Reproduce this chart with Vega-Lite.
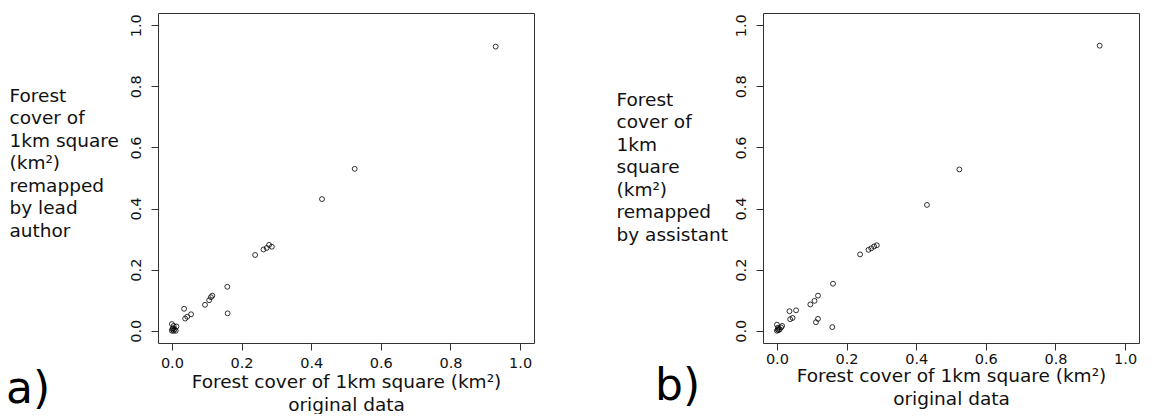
{
  "$schema": "https://vega.github.io/schema/vega-lite/v6.json",
  "background": "white",
  "padding": {"left": 5, "top": 12, "right": 0, "bottom": 0},
  "spacing": 80,
  "config": {
    "font": "DejaVu Sans",
    "view": {"stroke": "#333", "strokeWidth": 1},
    "axis": {
      "grid": false,
      "domain": false,
      "tickColor": "#333",
      "tickSize": 7,
      "labelFontSize": 14.5,
      "labelColor": "#111",
      "titleFontSize": 18.5,
      "titleFontWeight": "normal",
      "titleColor": "#111",
      "titleLineHeight": 22.5
    },
    "title": {"fontSize": 44, "fontWeight": "normal", "color": "#000"}
  },
  "datasets": {
    "lead": [
      {"original": 0.93, "remapped": 0.93},
      {"original": 0.525, "remapped": 0.53},
      {"original": 0.431, "remapped": 0.431},
      {"original": 0.239, "remapped": 0.248},
      {"original": 0.263, "remapped": 0.266},
      {"original": 0.272, "remapped": 0.271},
      {"original": 0.279, "remapped": 0.281},
      {"original": 0.287, "remapped": 0.275},
      {"original": 0.159, "remapped": 0.144},
      {"original": 0.16, "remapped": 0.057},
      {"original": 0.116, "remapped": 0.115},
      {"original": 0.112, "remapped": 0.11},
      {"original": 0.107, "remapped": 0.1},
      {"original": 0.095, "remapped": 0.085},
      {"original": 0.035, "remapped": 0.072},
      {"original": 0.038, "remapped": 0.04},
      {"original": 0.044, "remapped": 0.046},
      {"original": 0.055, "remapped": 0.054},
      {"original": 0.0, "remapped": 0.022},
      {"original": 0.005, "remapped": 0.016},
      {"original": 0.013, "remapped": 0.014},
      {"original": 0.001, "remapped": 0.005},
      {"original": 0.008, "remapped": 0.005},
      {"original": 0.0, "remapped": 0.0},
      {"original": 0.005, "remapped": 0.0},
      {"original": 0.011, "remapped": 0.0},
      {"original": 0.003, "remapped": 0.008}
    ],
    "assistant": [
      {"original": 0.927, "remapped": 0.933},
      {"original": 0.524, "remapped": 0.528},
      {"original": 0.431, "remapped": 0.412},
      {"original": 0.239, "remapped": 0.25},
      {"original": 0.263, "remapped": 0.265},
      {"original": 0.271, "remapped": 0.27},
      {"original": 0.279, "remapped": 0.276},
      {"original": 0.287, "remapped": 0.28},
      {"original": 0.161, "remapped": 0.154},
      {"original": 0.159, "remapped": 0.012},
      {"original": 0.118, "remapped": 0.115},
      {"original": 0.108, "remapped": 0.098},
      {"original": 0.096, "remapped": 0.086},
      {"original": 0.118, "remapped": 0.039},
      {"original": 0.112, "remapped": 0.028},
      {"original": 0.036, "remapped": 0.064},
      {"original": 0.055, "remapped": 0.067},
      {"original": 0.038, "remapped": 0.038},
      {"original": 0.045, "remapped": 0.042},
      {"original": 0.0, "remapped": 0.02},
      {"original": 0.003, "remapped": 0.01},
      {"original": 0.008, "remapped": 0.005},
      {"original": 0.0, "remapped": 0.0},
      {"original": 0.005, "remapped": 0.002},
      {"original": 0.012, "remapped": 0.011},
      {"original": 0.015, "remapped": 0.016},
      {"original": 0.002, "remapped": 0.004}
    ]
  },
  "hconcat": [
    {
      "width": 376,
      "height": 330,
      "title": {"text": "a)", "orient": "bottom", "anchor": "start", "frame": "group", "dx": -152, "dy": -50},
      "data": {"name": "lead"},
      "mark": {"type": "point", "filled": false, "stroke": "#000", "strokeWidth": 0.8, "size": 24, "opacity": 1},
      "encoding": {
        "x": {
          "field": "original", "type": "quantitative",
          "scale": {"domain": [-0.04, 1.04], "nice": false, "zero": false},
          "axis": {"values": [0, 0.2, 0.4, 0.6, 0.8, 1.0], "format": ".1f", "labelPadding": 6, "titlePadding": 3,
                   "title": ["Forest cover of 1km square (km²)", "original data"]}
        },
        "y": {
          "field": "remapped", "type": "quantitative",
          "scale": {"domain": [-0.04, 1.04], "nice": false, "zero": false},
          "axis": {"values": [0, 0.2, 0.4, 0.6, 0.8, 1.0], "format": ".1f", "labelAngle": -90, "labelPadding": 8,
                   "title": ["Forest", "cover of", "1km square", "(km²)", "remapped", "by lead", "author"],
                   "titleAngle": 0, "titleAlign": "left", "titleBaseline": "alphabetic", "titleX": -149, "titleY": 88}
        }
      }
    },
    {
      "width": 376,
      "height": 330,
      "title": {"text": "b)", "orient": "bottom", "anchor": "start", "frame": "group", "dx": -108, "dy": -47},
      "data": {"name": "assistant"},
      "mark": {"type": "point", "filled": false, "stroke": "#000", "strokeWidth": 0.8, "size": 24, "opacity": 1},
      "encoding": {
        "x": {
          "field": "original", "type": "quantitative",
          "scale": {"domain": [-0.04, 1.04], "nice": false, "zero": false},
          "axis": {"values": [0, 0.2, 0.4, 0.6, 0.8, 1.0], "format": ".1f", "labelPadding": 2, "titlePadding": 1,
                   "title": ["Forest cover of 1km square (km²)", "original data"]}
        },
        "y": {
          "field": "remapped", "type": "quantitative",
          "scale": {"domain": [-0.04, 1.04], "nice": false, "zero": false},
          "axis": {"values": [0, 0.2, 0.4, 0.6, 0.8, 1.0], "format": ".1f", "labelAngle": -90, "labelPadding": 8,
                   "title": ["Forest", "cover of", "1km", "square", "(km²)", "remapped", "by assistant"],
                   "titleAngle": 0, "titleAlign": "left", "titleBaseline": "alphabetic", "titleX": -147, "titleY": 92}
        }
      }
    }
  ]
}
